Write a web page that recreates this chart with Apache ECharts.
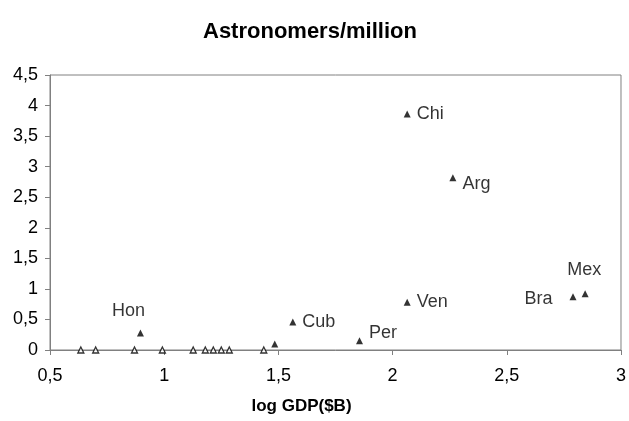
<!DOCTYPE html>
<html>
<head>
<meta charset="utf-8">
<script src="https://cdn.jsdelivr.net/npm/echarts@6/dist/echarts.min.js"></script>
<style>html,body{margin:0;padding:0;background:#fff}#c{width:629px;height:421px}</style>
</head>
<body>
<div id="c"></div>
<script>
// Data
const labels = ['Chi', 'Arg', 'Mex', 'Bra', 'Ven', 'Per', 'Cub', 'Hon', ''];
const logGdp = [2.064, 2.264, 2.843, 2.79, 2.064, 1.855, 1.563, 0.896, 1.484];
const astroPerMillion = [3.86, 2.82, 0.92, 0.87, 0.78, 0.15, 0.46, 0.28, 0.10];
const zeroLogGdp = [0.635, 0.70, 0.87, 0.992, 1.127, 1.18, 1.215, 1.25, 1.285, 1.436];
const zeroValues = [0, 0, 0, 0, 0, 0, 0, 0, 0, 0];
const xTicks = [0.5, 1, 1.5, 2, 2.5, 3];
const yTicks = [0, 0.5, 1, 1.5, 2, 2.5, 3, 3.5, 4, 4.5];

// Label placement (style only)
const labelStyle = {
  Chi: { position: 'right', distance: 6 },
  Arg: { position: 'right', distance: 6, offset: [0, 6] },
  Mex: { position: 'top', distance: 11, offset: [-1, 0] },
  Bra: { position: 'left', distance: 17, offset: [0, 2] },
  Ven: { position: 'right', distance: 6 },
  Per: { position: 'right', distance: 6, offset: [0, -8] },
  Cub: { position: 'right', distance: 6 },
  Hon: { position: 'top', distance: 9, offset: [-12, 0] }
};

const fmt = v => String(v).replace('.', ',');
const font = '"Liberation Sans", Arial, Helvetica, sans-serif';

const mainData = logGdp.map((x, i) => {
  const d = { value: [x, astroPerMillion[i]], name: labels[i] };
  const ls = labelStyle[labels[i]];
  if (ls) d.label = Object.assign({ show: true, formatter: '{b}' }, ls);
  return d;
});
const zeroData = zeroLogGdp.map((x, i) => [x, zeroValues[i]]);

const chart = echarts.init(document.getElementById('c'), null, { renderer: 'canvas' });
const axisLine = { show: true, lineStyle: { color: '#808080', width: 1 } };
chart.setOption({
  animation: false,
  backgroundColor: '#fff',
  textStyle: { fontFamily: font },
  title: {
    text: 'Astronomers/million',
    left: 198, top: 16,
    textStyle: { fontFamily: font, fontWeight: 'bold', fontSize: 22, color: '#000' }
  },
  grid: { left: 50, right: 5, top: 75, bottom: 71, show: true, borderColor: '#808080', borderWidth: 1, containLabel: false },
  xAxis: {
    type: 'value', min: xTicks[0], max: xTicks[xTicks.length - 1], interval: 0.5,
    axisLine: axisLine,
    axisTick: { show: true, length: 5, inside: false, lineStyle: { color: '#808080' } },
    splitLine: { show: false },
    axisLabel: { formatter: fmt, fontSize: 18, color: '#000', margin: 17, fontFamily: font },
    name: 'log GDP($B)', nameLocation: 'middle', nameGap: 48,
    nameTextStyle: { fontWeight: 'bold', fontSize: 17, color: '#000', fontFamily: font, padding: [0, 68, 0, 0] }
  },
  yAxis: {
    type: 'value', min: yTicks[0], max: yTicks[yTicks.length - 1], interval: 0.5,
    axisLine: axisLine,
    axisTick: { show: true, length: 5, inside: false, lineStyle: { color: '#808080' } },
    splitLine: { show: false },
    axisLabel: { formatter: fmt, fontSize: 18, color: '#000', margin: 12, fontFamily: font }
  },
  series: [
    {
      type: 'scatter', symbol: 'triangle', symbolSize: 7,
      itemStyle: { color: '#000' },
      label: { color: '#000', fontSize: 18, fontFamily: font },
      data: mainData
    },
    {
      type: 'scatter', symbol: 'triangle', symbolSize: 6,
      itemStyle: { color: '#fff', borderColor: '#000', borderWidth: 1.3 },
      data: zeroData
    }
  ]
});
</script>
</body>
</html>
